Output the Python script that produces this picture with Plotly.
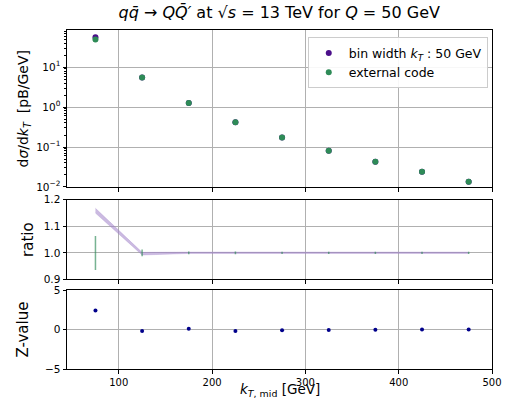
import plotly.graph_objects as go

kt_mid = [75, 125, 175, 225, 275, 325, 375, 425, 475]
xs_bin = [56.0, 5.5, 1.26, 0.42, 0.174, 0.081, 0.043, 0.024, 0.0135]
xs_ext = [49.0, 5.5, 1.26, 0.42, 0.174, 0.081, 0.043, 0.024, 0.0135]
ratio_lo = [1.150, 0.992, 0.998, 0.998, 0.998, 0.998, 0.998, 0.998, 0.998]
ratio_hi = [1.168, 1.002, 1.003, 1.003, 1.003, 1.003, 1.003, 1.003, 1.003]
ext_err = [0.064, 0.013, 0.005, 0.005, 0.004, 0.004, 0.004, 0.004, 0.004]
ones = [1.0] * len(kt_mid)
zvals = [2.4, -0.17, 0.1, -0.17, -0.08, -0.05, -0.03, 0.0, 0.0]
minor_log = [m * 10.0 ** e for e in (-2, -1, 0, 1) for m in range(2, 10)]

PURPLE = "#4b0f8a"
GREEN = "#2e8b57"
FONT = "DejaVu Sans"

fig = go.Figure()
fig.add_trace(go.Scatter(x=kt_mid, y=xs_bin, mode="markers", name="bin width <i>k<sub>T</sub></i> : 50 GeV",
                         marker=dict(color=PURPLE, size=6), xaxis="x", yaxis="y"))
fig.add_trace(go.Scatter(x=kt_mid, y=xs_ext, mode="markers", name="external code",
                         marker=dict(color=GREEN, size=6), xaxis="x", yaxis="y"))
# ratio band
fig.add_trace(go.Scatter(x=kt_mid, y=ratio_lo, mode="lines", line=dict(width=0.5, color="rgba(160,130,200,0.6)"),
                         showlegend=False, xaxis="x2", yaxis="y2"))
fig.add_trace(go.Scatter(x=kt_mid, y=ratio_hi, mode="lines", line=dict(width=0.5, color="rgba(160,130,200,0.6)"),
                         fill="tonexty", fillcolor="rgba(160,130,200,0.55)", showlegend=False, xaxis="x2", yaxis="y2"))
fig.add_trace(go.Scatter(x=kt_mid, y=ones, mode="markers",
                         marker=dict(size=0.1, color="rgba(0,0,0,0)"),
                         error_y=dict(type="data", array=ext_err, color="rgba(46,139,87,0.65)", thickness=1.5, width=0),
                         showlegend=False, xaxis="x2", yaxis="y2"))
fig.add_trace(go.Scatter(x=kt_mid, y=zvals, mode="markers", marker=dict(color="#00008b", size=4),
                         showlegend=False, xaxis="x3", yaxis="y3"))

xcommon = dict(range=[44.5, 500], showgrid=True, gridcolor="#b0b0b0", gridwidth=1, automargin=False,
               tickvals=[100, 200, 300, 400, 500], ticks="outside", ticklen=3.5, tickcolor="black",
               showline=True, linecolor="black", mirror=True, zeroline=False,
               tickfont=dict(size=10, color="black", family=FONT))
ycommon = dict(showgrid=True, gridcolor="#b0b0b0", gridwidth=1, ticks="outside", ticklen=3.5, tickcolor="black",
               showline=True, linecolor="black", mirror=True, zeroline=False, automargin=False,
               tickfont=dict(size=10.5, color="black", family=FONT))

fig.update_layout(
    width=505, height=403,
    margin=dict(l=67, r=12.5, t=30, b=34),
    paper_bgcolor="white", plot_bgcolor="white",
    font=dict(family=FONT, color="black"),
    title=dict(text="<i>q</i><i>q̄</i> → <i>Q</i><i>Q̄′</i> at √<i>s</i> = 13 TeV for <i>Q</i> = 50 GeV",
               x=0.553, xanchor="center", y=0.97, yanchor="middle", font=dict(size=16, family=FONT)),
    xaxis=dict(domain=[0, 1], anchor="y", showticklabels=False, **xcommon),
    xaxis2=dict(domain=[0, 1], anchor="y2", matches="x", showticklabels=False, **xcommon),
    xaxis3=dict(domain=[0, 1], anchor="y3", matches="x", **xcommon),
    yaxis=dict(domain=[0.5355, 1.0], type="log", range=[-2.012, 1.93],
               tickvals=[0.01, 0.1, 1, 10],
               ticktext=["10<sup>−2</sup>", "10<sup>−1</sup>", "10<sup>0</sup>", "10<sup>1</sup>"],
               minor=dict(tickvals=minor_log, ticks="outside", ticklen=2, tickcolor="black", showgrid=False),
               title=dict(text="d<i>σ</i>/d<i>k<sub>T</sub></i>  [pB/GeV]", font=dict(size=14), standoff=4),
               **ycommon),
    yaxis2=dict(domain=[0.2642, 0.4991], range=[0.9, 1.2], tickvals=[0.9, 1.0, 1.1, 1.2],
                ticktext=["0.9", "1.0", "1.1", "1.2"],
                title=dict(text="ratio", font=dict(size=15), standoff=6), **ycommon),
    yaxis3=dict(domain=[0.0, 0.2328], range=[-5, 5], tickvals=[-5, 0, 5], ticktext=["−5", "0", "5"],
                title=dict(text="Z-value", font=dict(size=15), standoff=12), **ycommon),
    legend=dict(x=0.99, y=0.978, xanchor="right", yanchor="top", bgcolor="rgba(255,255,255,0.9)",
                bordercolor="#cccccc", borderwidth=1, font=dict(size=12.5, family=FONT),
                traceorder="normal", itemwidth=30, tracegroupgap=0),
    annotations=[dict(text="<i>k</i><sub><i>T</i>, mid</sub> [GeV]", xref="paper", yref="paper",
                      x=0.5, y=-0.093, xanchor="center", yanchor="bottom", showarrow=False,
                      font=dict(size=13.5, family=FONT))],
)

fig.write_html("out.html")
